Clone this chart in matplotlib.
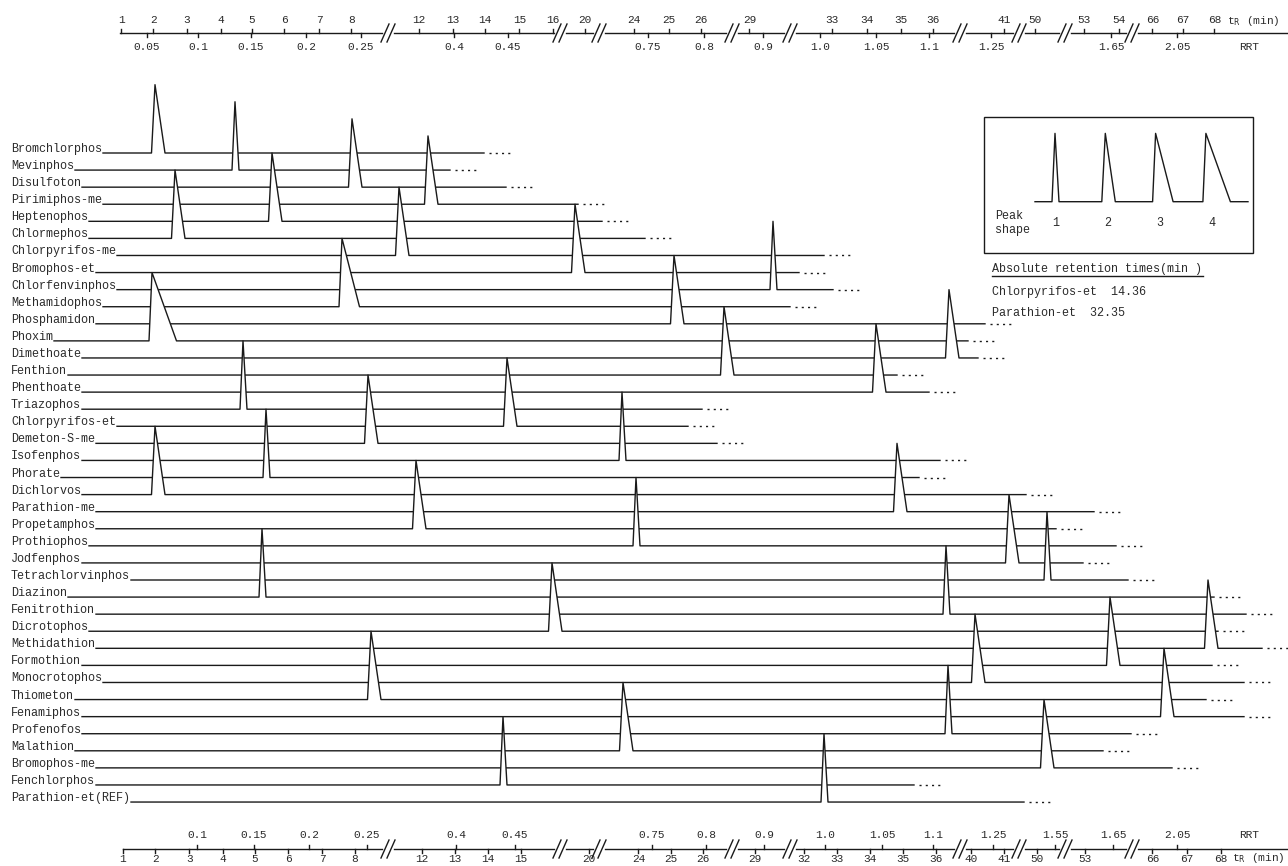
import matplotlib.pyplot as plt
import numpy as np

# compounds, top to bottom
compounds = ['Bromchlorphos', 'Mevinphos', 'Disulfoton', 'Pirimiphos-me', 'Heptenophos',
             'Chlormephos', 'Chlorpyrifos-me', 'Bromophos-et', 'Chlorfenvinphos',
             'Methamidophos', 'Phosphamidon', 'Phoxim', 'Dimethoate', 'Fenthion',
             'Phenthoate', 'Triazophos', 'Chlorpyrifos-et', 'Demeton-S-me', 'Isofenphos',
             'Phorate', 'Dichlorvos', 'Parathion-me', 'Propetamphos', 'Prothiophos',
             'Jodfenphos', 'Tetrachlorvinphos', 'Diazinon', 'Fenitrothion', 'Dicrotophos',
             'Methidathion', 'Formothion', 'Monocrotophos', 'Thiometon', 'Fenamiphos',
             'Profenofos', 'Malathion', 'Bromophos-me', 'Fenchlorphos', 'Parathion-et(REF)']

# peak position along the retention axis (chart units) and peak shape 1-4
peak_x = [155, 235, 352, 428, 272, 175, 399, 575, 773, 342, 674, 152, 949, 724, 876,
          243, 507, 368, 622, 266, 155, 897, 416, 636, 1009, 1047, 262, 946, 552, 1208,
          1110, 975, 371, 1164, 948, 623, 1044, 503, 824]
peak_shape = [2, 1, 2, 2, 2, 2, 2, 2, 1, 3, 2, 4, 2, 2, 2, 1, 2, 2, 1, 1, 2, 2, 2, 1,
              2, 1, 1, 1, 2, 2, 2, 2, 2, 2, 1, 2, 2, 1, 1]
trace_end = [484, 450, 506, 578, 602, 645, 824, 799, 833, 790, 985, 968, 978, 897, 929,
             702, 688, 717, 940, 919, 1026, 1094, 1056, 1116, 1083, 1128, 1214, 1246, 1218,
             1262, 1212, 1244, 1206, 1244, 1131, 1103, 1172, 914, 1024]

# rise / tail width of each peak shape
shape_rise = {1: 3, 2: 3.5, 3: 3, 4: 3}
shape_tail = {1: 4, 2: 10, 3: 17.5, 4: 24.5}

# axis ticks: retention time tR (min) and relative retention time RRT
tr_top = [1, 2, 3, 4, 5, 6, 7, 8, 12, 13, 14, 15, 16, 20, 24, 25, 26, 29, 33, 34, 35, 36,
          41, 50, 53, 54, 66, 67, 68]
tr_top_x = [121.5, 153.4, 186.6, 221, 251.7, 284.4, 319.2, 351.2, 418.7, 453, 485, 519.5,
            552.6, 584.6, 634.3, 669, 701, 749.5, 832, 867, 901, 933.4, 1003.6, 1034.6,
            1084, 1119.3, 1152.4, 1183, 1214.4]
rrt_top = ['0.05', '0.1', '0.15', '0.2', '0.25', '0.4', '0.45', '0.75', '0.8', '0.9',
           '1.0', '1.05', '1.1', '1.25', '1.65', '2.05']
rrt_top_x = [147, 198, 251, 306, 361, 454, 508, 648, 704, 763, 820, 876, 929, 991, 1111, 1177]

tr_bot = [1, 2, 3, 4, 5, 6, 7, 8, 12, 13, 14, 15, 20, 24, 25, 26, 29, 32, 33, 34, 35, 36,
          40, 41, 50, 53, 66, 67, 68]
tr_bot_x = [123, 155.5, 189.5, 222.6, 255, 288, 322, 355, 421.6, 454.8, 488, 521, 588.7,
            638.5, 671, 702.8, 755, 804, 837, 870, 903, 936, 970.6, 1003.6, 1036.7, 1085,
            1152.4, 1186.7, 1220.6]
rrt_bot = ['0.1', '0.15', '0.2', '0.25', '0.4', '0.45', '0.75', '0.8', '0.9', '1.0',
           '1.05', '1.1', '1.25', '1.55', '1.65', '2.05']
rrt_bot_x = [197, 254, 309, 367, 456, 515, 652, 706, 764, 825, 882, 933, 993, 1055, 1113, 1177]

axis_breaks = [388, 560, 599, 732, 790, 960, 1019, 1065, 1132]

ref_names = ['Chlorpyrifos-et', 'Parathion-et']
ref_times = [14.36, 32.35]

W, H = 1288, 866
mono = 'Liberation Mono'
ink = '#1a1a1a'
txt = '#2a2a2a'

fig = plt.figure(figsize=(W / 100, H / 100), dpi=100)
ax = fig.add_axes([0, 0, 1, 1])
ax.set_xlim(0, W)
ax.set_ylim(H, 0)
ax.axis('off')

row0, drow = 153, 17.08
peak_h = 4 * drow

labels = []
for i, name in enumerate(compounds):
    labels.append(ax.text(11, row0 + i * drow - 1, name, family=mono, size=8.5,
                          va='baseline', ha='left', color=txt))
fig.canvas.draw()
inv = ax.transData.inverted()

for i, name in enumerate(compounds):
    y = row0 + i * drow
    bb = labels[i].get_window_extent()
    x0 = inv.transform((bb.x1, bb.y0))[0] + 1
    xa = peak_x[i]
    xl = xa - shape_rise[peak_shape[i]]
    xr = xa + shape_tail[peak_shape[i]]
    end = trace_end[i]
    # white fill hides the baselines of the rows above
    ax.fill([xl, xa, xr], [y, y - peak_h, y], color='white', lw=0, zorder=3 * i + 2)
    ax.plot([x0, xl, xa, xr, end], [y, y, y - peak_h, y, y], color=ink, lw=1.0,
            zorder=3 * i + 3)
    ax.plot([end + 5, end + 27], [y, y], color=ink, lw=1.0, ls=(0, (1.5, 3)),
            zorder=3 * i + 3)


def draw_axis(y, x_start, tr, tr_x, rrt, rrt_x, tr_side, tr_off):
    # broken axis line
    edges = [x_start] + [v for b in axis_breaks for v in (b - 6, b + 6)] + [W]
    for a, b in zip(edges[::2], edges[1::2]):
        ax.plot([a, b], [y, y], color=ink, lw=1.0)
    for b in axis_breaks:
        for dx in (-3, 3):
            ax.plot([b + dx - 4, b + dx + 4], [y + 9, y - 9], color=ink, lw=1.0)
    for v, x in zip(tr, tr_x):
        ax.plot([x, x], [y, y + 4 * tr_side], color=ink, lw=1.0)
        ax.text(x, y + tr_off * tr_side, str(v), family=mono, size=8, ha='center',
                va='center', color=txt)
    for v, x in zip(rrt, rrt_x):
        ax.plot([x, x], [y, y - 4 * tr_side], color=ink, lw=1.0)
        ax.text(x, y - 14 * tr_side, v, family=mono, size=8, ha='center',
                va='center', color=txt)
    ax.text(1232 if tr_side > 0 else 1227, y + (tr_off - 1) * tr_side,
            't$_\\mathrm{R}$ (min)', family=mono, size=8, ha='left', va='center',
            color=txt)
    ax.text(1239, y - 14 * tr_side, 'RRT', family=mono, size=8, ha='left',
            va='center', color=txt)


draw_axis(33, 120, tr_top, tr_top_x, rrt_top, rrt_top_x, -1, 13)
draw_axis(849, 123, tr_bot, tr_bot_x, rrt_bot, rrt_bot_x, 1, 10)

# peak shape legend
ax.add_patch(plt.Rectangle((984, 117), 269, 136, fill=False, color=ink, lw=1.0))
lx, ly = [1035], [201.7]
for k, s in enumerate([1, 2, 3, 4]):
    xa = 1055 + 50.3 * k
    lx += [xa - shape_rise[s], xa, xa + shape_tail[s]]
    ly += [201.7, 201.7 - peak_h, 201.7]
    ax.text(xa + shape_tail[s] / 4, 223, str(s), family=mono, size=8.5,
            ha='center', va='center', color=txt)
lx.append(1248)
ly.append(201.7)
ax.plot(lx, ly, color=ink, lw=1.0)
ax.text(995, 223, 'Peak\nshape', family=mono, size=8.5, ha='left', va='center',
        color=txt, linespacing=1.3)

ax.text(992, 269, 'Absolute retention times(min )', family=mono, size=8.5,
        ha='left', va='center', color=txt)
ax.plot([992, 1203], [275.5, 275.5], color=ink, lw=1.0)
for k, (n, t) in enumerate(zip(ref_names, ref_times)):
    ax.text(992, 291.5 + 21 * k, '%s  %.2f' % (n, t), family=mono, size=8.5,
            ha='left', va='center', color=txt)

fig.savefig('out.png', dpi=100)
